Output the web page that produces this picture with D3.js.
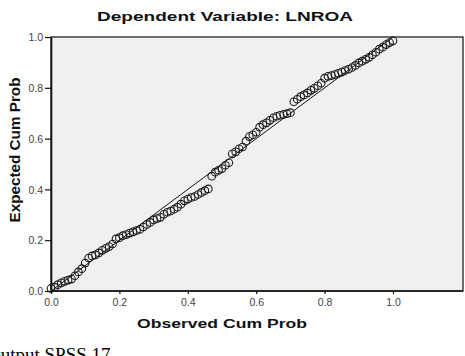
<!DOCTYPE html>
<html><head><meta charset="utf-8">
<script src="https://cdn.jsdelivr.net/npm/d3@7"></script>
<style>body{margin:0;background:#fff;overflow:hidden}</style>
</head><body>
<svg id="c" width="465" height="356"></svg>
<script>
const title = "Dependent Variable: LNROA";
const xLabel = "Observed Cum Prob";
const yLabel = "Expected Cum Prob";
const caption = "Output SPSS 17";
const tickValues = [0.0, 0.2, 0.4, 0.6, 0.8, 1.0];
const observed = [0.00,0.01,0.02,0.03,0.04,0.05,0.06,0.07,0.08,0.09,
0.10,0.11,0.12,0.13,0.14,0.15,0.16,0.17,0.18,0.19,
0.20,0.21,0.22,0.23,0.24,0.25,0.26,0.27,0.28,0.29,
0.30,0.31,0.32,0.33,0.34,0.35,0.36,0.37,0.38,0.39,
0.40,0.41,0.42,0.43,0.44,0.45,0.46,0.47,0.48,0.49,
0.50,0.51,0.52,0.53,0.54,0.55,0.56,0.57,0.58,0.59,
0.60,0.61,0.62,0.63,0.64,0.65,0.66,0.67,0.68,0.69,
0.70,0.71,0.72,0.73,0.74,0.75,0.76,0.77,0.78,0.79,
0.80,0.81,0.82,0.83,0.84,0.85,0.86,0.87,0.88,0.89,
0.90,0.91,0.92,0.93,0.94,0.95,0.96,0.97,0.98,0.99,1.00];
const expected = [0.010,0.015,0.025,0.032,0.038,0.043,0.047,0.060,0.075,0.088,
0.110,0.130,0.138,0.142,0.150,0.160,0.168,0.175,0.185,0.205,
0.210,0.218,0.222,0.228,0.233,0.238,0.243,0.252,0.262,0.270,
0.280,0.285,0.290,0.302,0.310,0.315,0.322,0.330,0.342,0.355,
0.362,0.368,0.372,0.380,0.388,0.395,0.402,0.452,0.468,0.475,
0.482,0.495,0.505,0.540,0.548,0.560,0.567,0.590,0.608,0.615,
0.625,0.645,0.655,0.662,0.672,0.682,0.688,0.692,0.695,0.698,
0.702,0.745,0.755,0.765,0.772,0.780,0.790,0.798,0.808,0.818,
0.838,0.845,0.848,0.852,0.857,0.862,0.868,0.873,0.880,0.888,
0.898,0.905,0.912,0.920,0.930,0.940,0.952,0.960,0.970,0.978,0.985];
const refLine = [[0,0],[1,1]];

const svg = d3.select("#c");
const L = 51, R = 463, T = 37, B = 291;
const x = d3.scaleLinear().domain([0, (R - L) / 342]).range([L, R]);
const y = d3.scaleLinear().domain([0, 1]).range([B, T]);

svg.append("rect").attr("x", L).attr("y", T).attr("width", R - L).attr("height", B - T)
  .attr("fill", "#f0f0f0").attr("stroke", "#111").attr("stroke-width", 1.2);

svg.append("line").attr("x1", x(refLine[0][0])).attr("y1", y(refLine[0][1]))
  .attr("x2", x(refLine[1][0])).attr("y2", y(refLine[1][1]))
  .attr("stroke", "#111").attr("stroke-width", 1);

svg.append("g").selectAll("circle").data(observed).join("circle")
  .attr("cx", d => x(d)).attr("cy", (d, i) => y(expected[i])).attr("r", 3.8)
  .attr("fill", "none").attr("stroke", "#1a1a1a").attr("stroke-width", 1.1);

const fmt = d3.format(".1f");
const xa = svg.append("g").attr("transform", `translate(0,${B})`)
  .call(d3.axisBottom(x).tickValues(tickValues).tickFormat(fmt).tickSize(3).tickSizeOuter(0));
const ya = svg.append("g").attr("transform", `translate(${L},0)`)
  .call(d3.axisLeft(y).tickValues(tickValues).tickFormat(fmt).tickSize(6).tickSizeOuter(0));
[xa, ya].forEach(a => {
  a.select(".domain").attr("stroke", "#111").attr("stroke-width", 1.6);
  a.selectAll(".tick line").attr("stroke", "#111").attr("stroke-width", 1.2);
  a.selectAll("text").attr("font-family", "Liberation Sans, Arial, sans-serif")
    .attr("font-size", 10.5).attr("fill", "#444");
});
xa.selectAll("text").attr("dy", null).attr("y", 14.5);
ya.selectAll("text").attr("x", -8).attr("dy", "0.35em");
xa.select(".domain").attr("d", `M${L},0H${R}`);

svg.append("text").attr("x", 225).attr("y", 21).attr("text-anchor", "middle")
  .attr("font-family", "Liberation Sans, Arial, sans-serif").attr("font-weight", "bold")
  .attr("font-size", 13.5).attr("textLength", 256).attr("lengthAdjust", "spacingAndGlyphs")
  .attr("fill", "#111").text(title);

svg.append("text").attr("x", 222).attr("y", 328).attr("text-anchor", "middle")
  .attr("font-family", "Liberation Sans, Arial, sans-serif").attr("font-weight", "bold")
  .attr("font-size", 13.5).attr("textLength", 170).attr("lengthAdjust", "spacingAndGlyphs")
  .attr("fill", "#111").text(xLabel);

svg.append("text").attr("transform", "translate(20,150) rotate(-90)").attr("text-anchor", "middle")
  .attr("font-family", "Liberation Sans, Arial, sans-serif").attr("font-weight", "bold")
  .attr("font-size", 15).attr("textLength", 145).attr("lengthAdjust", "spacingAndGlyphs")
  .attr("fill", "#111").text(yLabel);

svg.append("text").attr("x", -13).attr("y", 361)
  .attr("font-family", "Liberation Serif, Times New Roman, serif")
  .attr("font-size", 19).attr("fill", "#000").text(caption);
</script>
</body></html>
